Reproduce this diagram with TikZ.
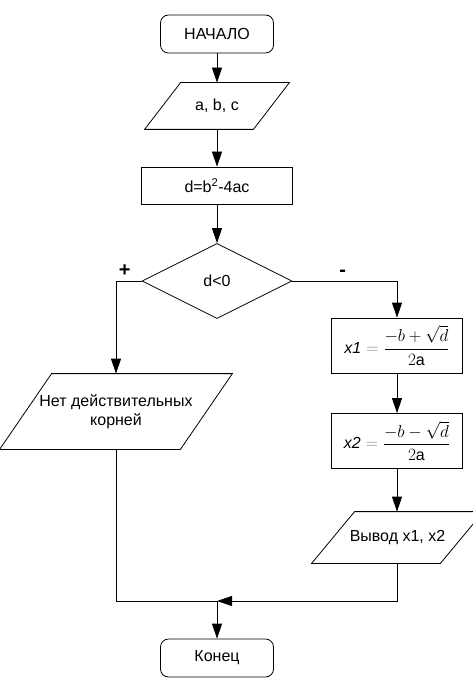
\documentclass[tikz,border=0pt]{standalone}
\usepackage{fontspec}
\setmainfont{Liberation Sans}
\usepackage{amsmath}
\usetikzlibrary{shapes.geometric,arrows.meta}

\tikzset{
  flow/.style={-{Triangle[length=15pt,width=10pt]}},
  term/.style={draw,rounded corners=8pt,minimum width=113pt,minimum height=38pt},
  proc/.style={draw,minimum width=151pt,minimum height=37pt},
  calcbox/.style={draw,minimum width=131pt,minimum height=55pt},
  iobox/.style={inner sep=2pt},
  ifbox/.style={draw,diamond,minimum width=150pt,minimum height=75pt,inner sep=0pt},
  branch/.style={font=\fontsize{20}{22}\selectfont\bfseries,above=1pt},
  every node/.style={font=\fontsize{16}{19}\selectfont}
}

\begin{document}
\begin{tikzpicture}[x=1pt,y=-1pt,line width=0.8pt]
  \useasboundingbox (0,0) rectangle (472,684);
  \node[term] (start) at (217,34) {НАЧАЛО};
  \node[iobox,minimum width=108pt,minimum height=46pt] (input) at (217,106) {a, b, c};
  \node[proc] (calc) at (217,185.5) {d=b\textsuperscript{2}-4ac};
  \node[ifbox] (cond) at (217,281) {d<0};
  \node[calcbox] (root1) at (397,345.5)
    {$\mathit{x1}\mathrel{\color{gray}=}\dfrac{-b+\sqrt{d}}{2\mathrm{a}}$};
  \node[calcbox] (root2) at (397,441)
    {$\mathit{x2}\mathrel{\color{gray}=}\dfrac{-b-\sqrt{d}}{2\mathrm{a}}$};
  \node[iobox,minimum width=128pt,minimum height=51pt] (output) at (397.5,537.5) {Вывод x1, x2};
  \node[iobox,minimum width=180pt,minimum height=75pt,align=center] (noroots) at (116,411.5)
    {Нет действительных\\корней};
  \node[term] (finish) at (217,658) {Конец};
  \coordinate (join) at (217,601);

  % parallelograms round the input/output nodes
  \foreach \n/\s in {input/18,output/21.5,noroots/26}
    \draw ([xshift=\s]\n.north west) -- ([xshift=\s]\n.north east)
      -- ([xshift=-\s]\n.south east) -- ([xshift=-\s]\n.south west) -- cycle;

  \draw[flow] (start) -- (input);
  \draw[flow] (input) -- (calc);
  \draw[flow] (calc) -- (cond);
  \draw[flow] (cond.west) -| (noroots.north) node[pos=0.33,branch] {+};
  \draw[flow] (cond.east) -| (root1.north) node[pos=0.24,branch] {-};
  \draw[flow] (root1) -- (root2);
  \draw[flow] (root2) -- (root2 |- output.north);
  \draw (noroots.south) |- (join);
  \draw[flow] (root2 |- output.south) |- (join);
  \draw[flow] (join) -- (finish);
\end{tikzpicture}
\end{document}
